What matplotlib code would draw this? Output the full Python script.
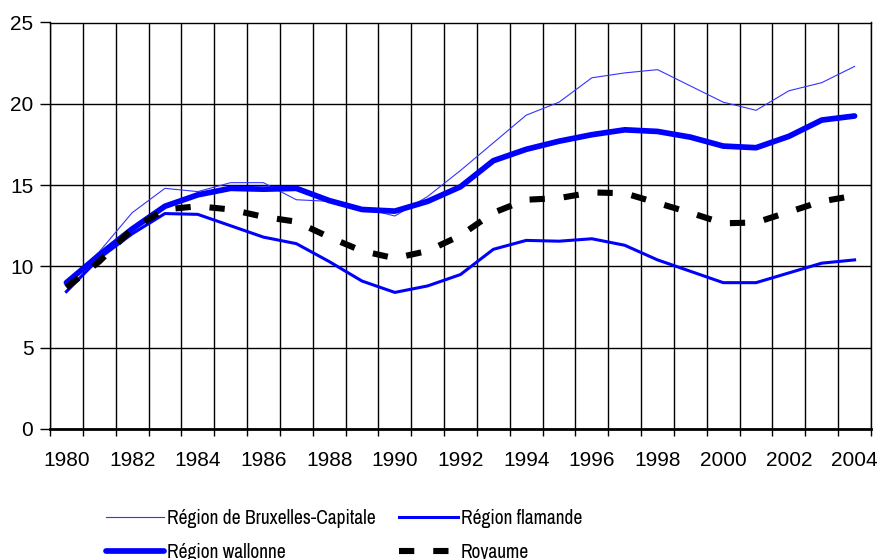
import matplotlib
matplotlib.use('Agg')
import matplotlib.pyplot as plt
import numpy as np

years = list(range(1980, 2005))

bruxelles = [9.0, 10.9, 13.3, 14.8, 14.6, 15.15, 15.15, 14.1, 14.0, 13.6, 13.1, 14.3,
             15.9, 17.6, 19.3, 20.1, 21.6, 21.9, 22.1, 21.1, 20.1, 19.6, 20.8, 21.3, 22.3]
flamande = [8.45, 10.5, 12.0, 13.25, 13.2, 12.5, 11.8, 11.4, 10.3, 9.1, 8.4, 8.8,
            9.5, 11.05, 11.6, 11.55, 11.7, 11.3, 10.4, 9.7, 9.0, 9.0, 9.6, 10.2, 10.4]
wallonne = [9.0, 10.7, 12.3, 13.7, 14.4, 14.8, 14.75, 14.8, 14.05, 13.5, 13.4, 14.0,
            14.9, 16.5, 17.2, 17.7, 18.1, 18.4, 18.3, 17.95, 17.4, 17.3, 18.0, 19.0, 19.25]
royaume = [8.7, 10.3, 12.3, 13.5, 13.7, 13.5, 13.05, 12.75, 11.8, 10.95, 10.5, 10.95,
           11.9, 13.3, 14.1, 14.2, 14.55, 14.5, 13.9, 13.3, 12.65, 12.7, 13.35, 14.0, 14.35]

labels = ['Région de Bruxelles-Capitale', 'Région flamande', 'Région wallonne', 'Royaume']

plt.rcParams['font.family'] = ['Liberation Sans', 'DejaVu Sans']

fig = plt.figure(figsize=(8.78, 5.59), dpi=100)
ax = fig.add_axes([50 / 878, 1 - 429 / 559, 821 / 878, 406.5 / 559])

x = np.arange(len(years))
l_bru, = ax.plot(x, bruxelles, color='#3333ff', lw=0.8)
l_fla, = ax.plot(x, flamande, color='#0000ff', lw=2.2)
l_wal, = ax.plot(x, wallonne, color='#0000ff', lw=4.1, solid_capstyle='round')
l_roy, = ax.plot(x, royaume, color='black', lw=4.4, dashes=(2.5, 3.1), dash_capstyle='butt')

ax.set_xlim(-0.5, len(years) - 0.5)
ax.set_ylim(0, 25)
ax.set_yticks(range(0, 26, 5))
ax.set_xticks(x[::2])
ax.set_xticklabels([str(y) for y in years[::2]])
ax.set_xticks(np.arange(-0.5, len(years), 1), minor=True)

ax.tick_params(axis='x', which='major', length=0, pad=16, labelsize=15)
ax.tick_params(axis='x', which='minor', length=5, width=1, direction='out', color='black')
ax.tick_params(axis='y', which='major', length=7, width=1, direction='out', pad=5, labelsize=15)

ax.grid(axis='x', which='minor', color='black', lw=1)
ax.grid(axis='y', which='major', color='black', lw=1)
ax.set_axisbelow(True)

for s in ['top', 'right', 'left']:
    ax.spines[s].set_linewidth(1)
ax.spines['bottom'].set_linewidth(2)

leg = fig.legend([l_bru, l_wal, l_fla, l_roy], [labels[0], labels[2], labels[1], labels[3]],
                 ncol=2, frameon=False, loc='upper left', bbox_to_anchor=(106 / 878, 1 - 509 / 559),
                 prop={'family': ['Archivo Narrow', 'Liberation Sans'], 'size': 14},
                 handlelength=3.0, handletextpad=0.15, columnspacing=1.2, labelspacing=0.75,
                 borderpad=0, borderaxespad=0)

fig.savefig('out.png', dpi=100)
